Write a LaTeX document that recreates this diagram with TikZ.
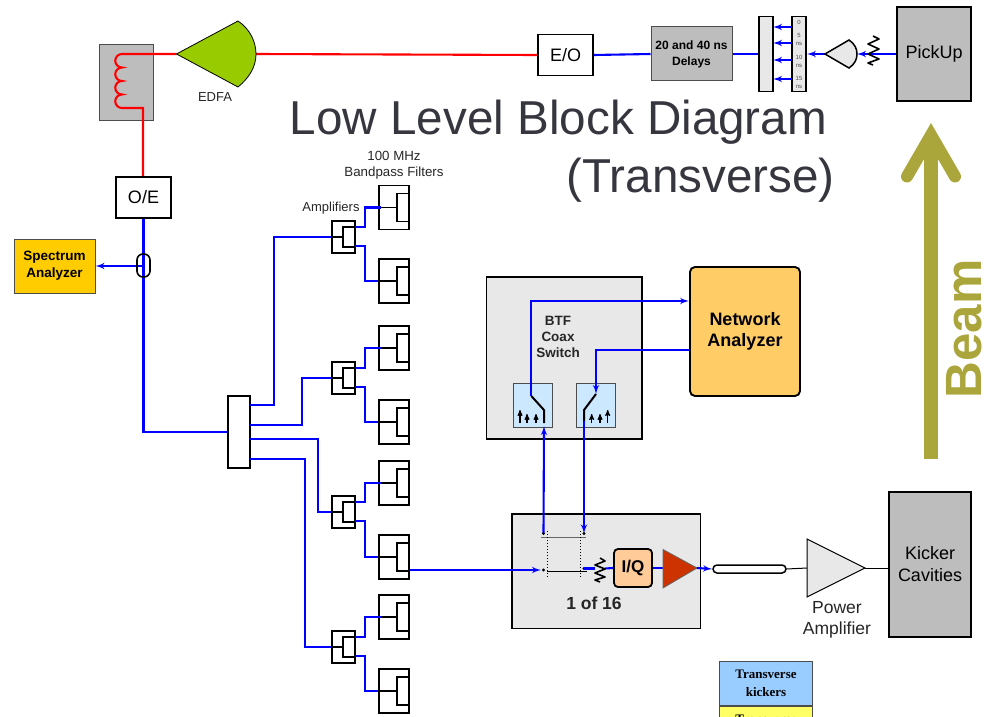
\documentclass[tikz,border=0pt]{standalone}
\usepackage{fontspec}
\setmainfont{Liberation Sans}
\newfontfamily\legendfont{Liberation Serif}
\usetikzlibrary{arrows}
\definecolor{boxgrey}{HTML}{BDBDBD}
\definecolor{panelgrey}{HTML}{E8E8E8}
\definecolor{wireblue}{HTML}{0000FF}
\definecolor{beamolive}{HTML}{ABA63C}
\definecolor{titlegrey}{HTML}{36363F}
\definecolor{edfagreen}{HTML}{99CC00}
\definecolor{specyellow}{HTML}{FFCC00}
\definecolor{netorange}{HTML}{FFCC66}
\definecolor{iqorange}{HTML}{FFCC99}
\definecolor{ampred}{HTML}{CC3300}
\definecolor{swblue}{HTML}{CCE8FF}
\definecolor{legendblue}{HTML}{99CCFF}
\definecolor{legendyellow}{HTML}{FFFF66}
\tikzstyle{block} = [rectangle, draw=black, line width=1.8pt, inner sep=0pt, align=center]
\tikzstyle{greybox} = [block, fill=boxgrey, line width=2.1pt, font=\fontsize{18}{22}\selectfont]
\tikzstyle{thinbox} = [rectangle, draw=black!70, line width=1pt, inner sep=0pt, align=center]
\tikzstyle{panel} = [block, fill=panelgrey]
\tikzstyle{convert} = [block, fill=white, minimum width=55, minimum height=41, font=\fontsize{18}{22}\selectfont]
\tikzstyle{filt} = [block, fill=white, minimum width=30, minimum height=44]
\tikzstyle{filtin} = [block, fill=white, minimum width=11.5, minimum height=28]
\tikzstyle{ampl} = [block, fill=white, minimum width=23, minimum height=32]
\tikzstyle{amplin} = [block, fill=white, minimum width=12, minimum height=20]
\tikzstyle{sw} = [thinbox, fill=swblue, minimum width=39, minimum height=44]
\tikzstyle{wire} = [draw=wireblue, line width=2.1pt]
\tikzstyle{fibre} = [draw=red, line width=2.1pt]
\tikzstyle{tag} = [inner sep=0pt, align=center, text=black!85]
\tikzstyle{tiny} = [inner sep=0pt, align=center, font=\fontsize{6}{8}\selectfont, text=black!70]

\begin{document}
\begin{tikzpicture}[x=1pt,y=-1pt,>=latex',semithick]
  \useasboundingbox (0,0) rectangle (988,717);

  % top row
  \node[thinbox,fill=boxgrey,minimum width=54,minimum height=75] (coil) at (126.5,82.5) {};
  \node[convert] (eo) at (565.5,55) {E/O};
  \node[thinbox,fill=boxgrey,minimum width=81,minimum height=54,font=\bfseries\fontsize{12}{16}\selectfont] (delays) at (691.5,54) {20 and 40 ns\\Delays};
  \node[panel,minimum width=14,minimum height=75] (combine) at (766,54) {};
  \node[panel,minimum width=14,minimum height=75] (taps) at (799,54) {};
  \node[greybox,minimum width=74,minimum height=94] (pickup) at (934,54) {PickUp};
  \node[tiny] (t0) at (799,22) {0};
  \node[tiny] (t5) at (799,39) {5\\ns};
  \node[tiny] (t10) at (799,61) {10\\ns};
  \node[tiny] (t15) at (799,82.5) {15\\ns};
  \coordinate (edfatip) at (176.5,54);
  \coordinate (edfaout) at (256,54);
  \coordinate (pretip) at (825,54);
  \coordinate (preout) at (857,54);

  % optical path
  \draw[fibre] (eo.west) -- (edfaout);
  \draw[fibre] (edfatip) -- (122,54)
     arc[start angle=90,end angle=270,radius=6.75pt]
     arc[start angle=90,end angle=270,radius=6.75pt]
     arc[start angle=90,end angle=270,radius=6.75pt]
     arc[start angle=90,end angle=270,radius=6.75pt]
     -- (143,108) -- (143,177);
  \draw[draw=black,line width=0.8pt,fill=edfagreen] (edfatip) -- (238,21)
     .. controls (250,29) and (256,42) .. (edfaout)
     .. controls (256,67) and (249,78) .. (238,87) -- cycle;
  \node[tag,font=\fontsize{13}{15}\selectfont] (edfa) at (215,97) {EDFA};

  % delay section
  \draw[wire] (eo.east) -- (delays.west);
  \draw[wire] (delays.east) -- (combine.west);
  \foreach \y in {27,43,60,79}
    \draw[wire,->] (792,\y) -- (773,\y);
  \draw[wire,->] (pretip) -- (taps.east);
  \draw[wire,->] (pickup.west) -- (preout);
  \draw[black,line width=1.5pt,fill=panelgrey] (pretip) -- (849,40)
     .. controls (855,44) and (857,49) .. (preout)
     .. controls (857,59) and (855,64) .. (849,68) -- cycle;
  \draw[black,line width=1.6pt,line join=round] (873,36) -- (879,39) -- (868,44) -- (879,49) -- (868,54) -- (879,59) -- (868,63) -- (873,65);

  \node[tag,text=titlegrey,font=\fontsize{47.6}{58}\selectfont] (title) at (558.5,122) {Low Level Block Diagram};
  \node[tag,text=titlegrey,font=\fontsize{47.6}{58}\selectfont,anchor=east] (title2) at (835,180) {(Transverse)};

  % beam
  \draw[beamolive,line width=13.7pt] (931,459) -- (931,140);
  \draw[beamolive,line width=12pt,line join=miter,line cap=round] (907,176.5) -- (931,135) -- (955,176.5);
  \node[tag,text=beamolive,rotate=90,font=\bfseries\fontsize{51}{60}\selectfont] (beam) at (964,329) {Beam};

  % pickup to splitter
  \node[convert] (oe) at (143.5,197.5) {O/E};
  \node[thinbox,fill=specyellow,minimum width=81,minimum height=54,font=\bfseries\fontsize{13.5}{17}\selectfont] (spectrum) at (54.5,266) {Spectrum\\Analyzer};
  \node[block,fill=white,minimum width=21.5,minimum height=72] (split) at (239,432) {};
  \coordinate (tapoff) at (143.5,266);
  \draw[wire] (oe.south) |- (split.west);
  \draw[wire,->] (tapoff) -- (spectrum.east);
  \draw[black,line width=1.6pt,rounded corners=6pt] (137,254) rectangle (150,277);

  % amplifiers and filters
  \foreach \n/\y in {1/207.5,2/281,3/348,4/422,5/483,6/557,7/617,8/691} {
    \node[filt] (f\n) at (393.7,\y) {};
    \node[filtin] (fi\n) at (402.9,\y) {};
    \draw[black,line width=1.6pt] (f\n.west) -- (fi\n.west);
  }
  \foreach \n/\y in {1/237,2/378,3/512,4/647} {
    \node[ampl] (a\n) at (343.2,\y) {};
    \node[amplin] (ai\n) at (348.7,\y) {};
    \draw[black,line width=1.6pt] (a\n.west) -- (ai\n.west);
    \coordinate (au\n) at (354.7,\y-10);
    \coordinate (ad\n) at (354.7,\y+9);
  }
  \foreach \n/\p/\q in {1/1/2,2/3/4,3/5/6,4/7/8} {
    \draw[wire] (au\n) -- ++(10.3,0) |- ([xshift=3pt]f\p.west);
    \draw[wire] (ad\n) -- ++(10.3,0) |- (f\q.west);
  }
  \draw[wire] (249.7,405) -- (274,405) |- (a1.west);
  \draw[wire] (249.7,425) -- (301.7,425) |- (a2.west);
  \draw[wire] (249.7,438.7) -- (318,438.7) |- (a3.west);
  \draw[wire] (249.7,458.7) -- (305,458.7) |- (a4.west);
  \node[tag,font=\fontsize{13.3}{16}\selectfont] (bp) at (394,165) {100 MHz\\Bandpass Filters};
  \node[tag,font=\fontsize{13}{15}\selectfont] (amps) at (331,208.5) {Amplifiers};

  % coax switch
  \node[panel,minimum width=155.5,minimum height=162] (btf) at (564.2,358) {};
  \node[tag,font=\bfseries\fontsize{13.5}{16}\selectfont] (btftext) at (558,337) {BTF\\Coax\\Switch};
  \node[block,fill=netorange,rounded corners=5pt,line width=1.9pt,minimum width=110,minimum height=129,font=\bfseries\fontsize{18}{21}\selectfont] (network) at (745,331.5) {Network\\Analyzer};
  \node[sw] (swa) at (532.5,405) {};
  \node[sw] (swb) at (596,405) {};
  \foreach \x/\t in {520/410,527/414,536/414,591.7/414,600/414,607.7/410}
    \draw[black,line width=1.1pt,-stealth'] (\x,423) -- (\x,\t);
  \coordinate (swain) at (531.3,396);
  \coordinate (swaout) at (544,426);
  \coordinate (swbin) at (596,394);
  \coordinate (swbout) at (584,421);
  \draw[black,line width=2pt] (swain) -- (544,410) -- (544,423);
  \draw[black,line width=2pt] (swbin) -- (584,410) -- (swbout);
  \draw[wire,->] (swain) |- (network.west |- 0,301);
  \draw[wire,->] (network.west |- 0,350) -| (swbin);

  % one of sixteen
  \node[panel,minimum width=188.5,minimum height=114.5] (card) at (606.3,571.3) {};
  \node[tag,font=\bfseries\fontsize{17.5}{20}\selectfont] (cardtext) at (594,603) {1 of 16};
  \node[block,fill=iqorange,rounded corners=4pt,minimum width=38,minimum height=38,font=\bfseries\fontsize{17}{20}\selectfont] (iq) at (633,568) {I/Q};
  \coordinate (rfin) at (541,570);
  \coordinate (rfout) at (697,568);
  \coordinate (upa) at (543.5,533.5);
  \coordinate (upb) at (584,533.5);
  \coordinate (dna) at (543.5,570);
  \coordinate (dnb) at (584,568.5);
  \coordinate (resin) at (595,568.5);
  \coordinate (resout) at (605,568.5);
  \draw[wire,->] (f6.east |- rfin) -- (rfin);
  \draw[wire,->] (upa) -- (swaout);
  \draw[wire,->] (swbout) -- (upb);
  \draw[black!60,line width=1pt] (541,537.5) -- (586,537.5);
  \draw[black,line width=0.8pt] (547,571) -- (587,571);
  \draw[black,dotted,line width=1pt] (547,531) -- (547,577);
  \draw[black,dotted,line width=1pt] (580.5,531) -- (580.5,577);
  \fill[black] (upa) circle (1.7pt) (upb) circle (1.7pt) (dna) circle (1.7pt) (dnb) circle (1.7pt);
  \draw[wire] (dnb) -- (resin);
  \draw[wire] (resout) -- (iq.west);
  \draw[black,line width=1.6pt,line join=round] (600,558) -- (605,561) -- (595,565) -- (605,569) -- (595,573) -- (605,577) -- (595,580) -- (600,582);
  \draw[wire] (iq.east) -- (rfout);
  \draw[black!60,line width=0.8pt,fill=ampred] (663,549.5) -- (rfout) -- (663,588) -- cycle;

  % output to kicker
  \node[block,fill=white,rounded corners=4pt,line width=1.5pt,minimum width=73,minimum height=8] (cable) at (749.5,569) {};
  \node[greybox,minimum width=82,minimum height=145,line width=1.7pt] (kicker) at (930,564.5) {Kicker\\Cavities};
  \coordinate (pawest) at (807,568);
  \coordinate (patip) at (865,568);
  \draw[wire,->] (rfout) -- (cable.west);
  \draw[black,line width=1pt] (cable.east) -- (pawest);
  \draw[black,line width=1pt] (patip) -- (kicker.west |- patip);
  \draw[black,line width=1pt,fill=panelgrey] (807,539) -- (patip) -- (807,597) -- cycle;
  \node[tag,font=\fontsize{17.5}{21}\selectfont] (patext) at (837,620) {Power\\Amplifier};

  % legend
  \begin{scope}
    \clip (0,0) rectangle (988,717);
    \node[thinbox,fill=legendblue,minimum width=92.5,minimum height=43.5,font=\legendfont\bfseries\fontsize{13}{18}\selectfont] (legenda) at (766,683.5) {Transverse\\kickers};
    \node[thinbox,fill=legendyellow,minimum width=92.5,minimum height=43.5,font=\legendfont\bfseries\fontsize{13}{18}\selectfont,anchor=north] (legendb) at (legenda.south) {Transverse\\};
  \end{scope}
\end{tikzpicture}
\end{document}
